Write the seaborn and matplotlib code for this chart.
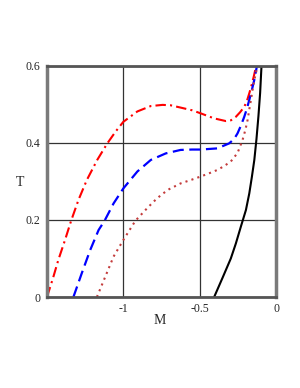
import matplotlib
matplotlib.use("Agg")
import matplotlib.pyplot as plt
import seaborn as sns

# Data
red_M = [-1.5, -1.46, -1.426, -1.382, -1.342, -1.294, -1.239, -1.171, -1.105, -1.05, -1.0,
         -0.908, -0.82, -0.743, -0.691, -0.625, -0.55, -0.493, -0.406, -0.329, -0.295,
         -0.263, -0.235, -0.208, -0.19, -0.175, -0.16, -0.146, -0.13]
red_T = [0.0, 0.05, 0.096, 0.148, 0.198, 0.252, 0.304, 0.356, 0.399, 0.43, 0.455,
         0.482, 0.496, 0.499, 0.498, 0.492, 0.485, 0.477, 0.464, 0.457, 0.459,
         0.468, 0.48, 0.494, 0.51, 0.529, 0.55, 0.572, 0.6]

blue_M = [-1.327, -1.272, -1.217, -1.162, -1.123, -1.064, -1.0, -0.954, -0.908, -0.82,
          -0.722, -0.625, -0.55, -0.493, -0.384, -0.307, -0.275, -0.252, -0.23, -0.208,
          -0.19, -0.175, -0.158, -0.142, -0.125]
blue_T = [0.0, 0.062, 0.122, 0.174, 0.198, 0.243, 0.282, 0.304, 0.326, 0.356,
          0.373, 0.382, 0.383, 0.383, 0.386, 0.399, 0.41, 0.425, 0.445, 0.468,
          0.49, 0.512, 0.538, 0.564, 0.6]

dot_M = [-1.173, -1.118, -1.064, -1.0, -0.921, -0.855, -0.801, -0.75, -0.7, -0.625, -0.55,
         -0.493, -0.44, -0.384, -0.34, -0.296, -0.252, -0.219, -0.2, -0.186, -0.175,
         -0.164, -0.153, -0.142, -0.13, -0.12]
dot_T = [0.0, 0.053, 0.105, 0.148, 0.198, 0.226, 0.248, 0.266, 0.28, 0.295, 0.305,
         0.313, 0.321, 0.33, 0.34, 0.352, 0.374, 0.408, 0.435, 0.46, 0.487,
         0.512, 0.54, 0.564, 0.585, 0.6]

black_M = [-0.405, -0.35, -0.296, -0.263, -0.23, -0.197, -0.175, -0.158, -0.142,
           -0.128, -0.115, -0.104, -0.095]
black_T = [0.0, 0.05, 0.10, 0.139, 0.183, 0.226, 0.269, 0.312, 0.356,
           0.41, 0.47, 0.53, 0.6]

x_ticks = [-1.0, -0.5, 0.0]
x_labels = ["-1", "-0.5", "0"]
y_ticks = [0.0, 0.2, 0.4, 0.6]
y_labels = ["0", "0.2", "0.4", "0.6"]

sns.set_style("white")
plt.rcParams['font.family'] = ['Liberation Serif', 'DejaVu Serif']

fig = plt.figure(figsize=(3.0, 3.88), dpi=100)
ax = fig.add_axes([47/300, 1-297/388, (276-47)/300, (297-66)/388])

ax.set_xlim(-1.5, 0.0)
ax.set_ylim(0.0, 0.6)

for x in x_ticks:
    ax.axvline(x, color="#333333", lw=0.9, zorder=0)
for y in y_ticks:
    ax.axhline(y, color="#333333", lw=0.9, zorder=0)

sns.lineplot(x=red_M, y=red_T, ax=ax, color="#ff0000", lw=1.5, sort=False,
             estimator=None, linestyle=(0, (5, 2, 1, 2)))
sns.lineplot(x=blue_M, y=blue_T, ax=ax, color="#0000ff", lw=1.6, sort=False,
             estimator=None, linestyle=(0, (5, 2.5)))
sns.lineplot(x=dot_M, y=dot_T, ax=ax, color="#c43c3c", lw=1.5, sort=False,
             estimator=None, linestyle=(0, (1, 2)))
sns.lineplot(x=black_M, y=black_T, ax=ax, color="black", lw=1.5, sort=False,
             estimator=None)

ax.set_xticks(x_ticks)
ax.set_xticklabels(x_labels, fontsize=8.5)
ax.set_yticks(y_ticks)
ax.set_yticklabels(y_labels, fontsize=8.5)
ax.tick_params(axis='both', length=3, width=0.8, color='black', pad=1.5, direction='out')

for side in ['left', 'right']:
    ax.spines[side].set_color('#7a7a7a')
    ax.spines[side].set_linewidth(2.5)
for side in ['top', 'bottom']:
    ax.spines[side].set_color('#555555')
    ax.spines[side].set_linewidth(2.0)

ax.set_xlabel("")
ax.set_ylabel("")
fig.text(160/300, 1-320/388, "M", fontsize=10, ha='center', va='center')
fig.text(20/300, 1-183/388, "T", fontsize=10, ha='center', va='center')

fig.savefig("out.png", dpi=100)
